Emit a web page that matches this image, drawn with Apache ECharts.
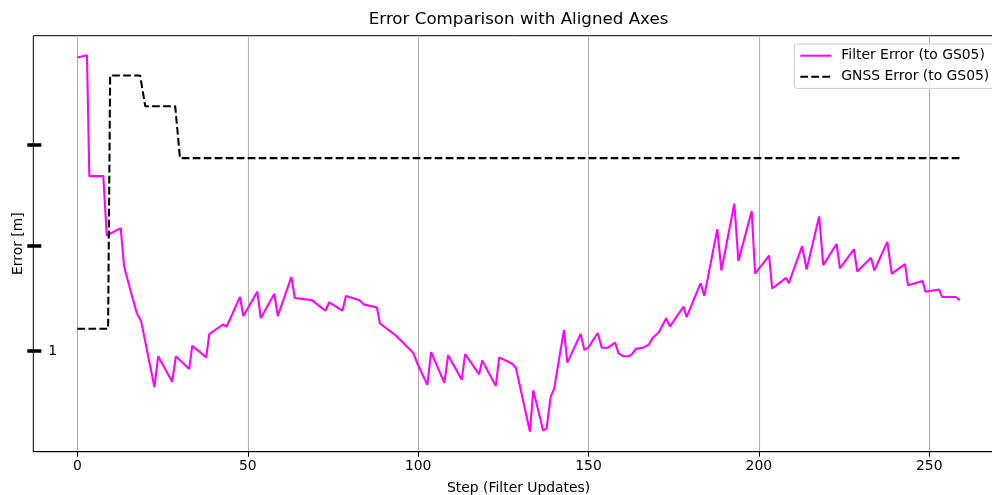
<!DOCTYPE html>
<html>
<head>
<meta charset="utf-8">
<script src="https://cdn.jsdelivr.net/npm/echarts@6/dist/echarts.min.js"></script>
<style>
  html, body { margin: 0; padding: 0; background: #ffffff; }
  #chart { width: 992px; height: 495px; }
</style>
</head>
<body>
<div id="chart"></div>
<script>
// Tick positions
const xTicks = [0, 50, 100, 150, 200, 250];
const yTicks = [1, 1.993, 2.95];
const yLabels = [1];

// Filter error per filter update step
const filterSteps = [
  0, 2.8, 3.5, 7.6, 8.6, 12.7, 13.7, 15.5, 17.4, 18.7,
  22.6, 23.7, 27.8, 28.9, 32.8, 33.7, 37.8, 38.7, 42.7, 43.8,
  47.7, 48.7, 52.8, 53.8, 57.8, 58.8, 62.8, 63.8, 68.8, 72.8,
  73.9, 77.8, 78.8, 82.8, 84.0, 87.9, 88.8, 93.7, 98.6, 99.8,
  102.7, 103.8, 107.7, 108.8, 112.8, 113.8, 117.9, 118.8, 122.8, 123.8,
  127.6, 128.7, 132.8, 133.8, 136.7, 137.7, 138.9, 139.9, 142.8, 143.8,
  147.7, 148.8, 149.9, 152.7, 153.9, 155.6, 157.8, 158.8, 160.2, 161.7,
  162.8, 163.9, 165.9, 167.7, 168.8, 170.7, 172.8, 173.9, 177.9, 178.8,
  182.9, 184.0, 187.8, 189.0, 192.8, 194.0, 197.9, 198.9, 203.0, 203.9,
  208.0, 208.8, 212.7, 214.0, 217.7, 218.9, 222.8, 223.8, 227.9, 228.9,
  232.9, 233.9, 237.7, 239.0, 242.9, 243.8, 248.1, 248.9, 252.9, 253.8,
  257.8, 259
];
const filterError = [
  3.77, 3.79, 2.65, 2.65, 2.09, 2.16, 1.80, 1.58, 1.36, 1.28,
  0.66, 0.95, 0.71, 0.95, 0.83, 1.05, 0.94, 1.16, 1.25, 1.23,
  1.51, 1.33, 1.56, 1.31, 1.54, 1.33, 1.70, 1.50, 1.48, 1.38,
  1.46, 1.38, 1.52, 1.48, 1.44, 1.41, 1.26, 1.14, 0.98, 0.88,
  0.68, 0.99, 0.70, 0.96, 0.73, 0.97, 0.78, 0.91, 0.67, 0.94,
  0.88, 0.84, 0.24, 0.63, 0.25, 0.27, 0.57, 0.64, 1.20, 0.89,
  1.16, 1.01, 1.03, 1.17, 1.03, 1.03, 1.08, 0.98, 0.95, 0.95,
  0.97, 1.02, 1.03, 1.06, 1.12, 1.18, 1.31, 1.23, 1.42, 1.32,
  1.64, 1.52, 2.15, 1.76, 2.39, 1.85, 2.32, 1.73, 1.90, 1.59,
  1.69, 1.64, 1.99, 1.77, 2.27, 1.81, 2.01, 1.78, 1.96, 1.75,
  1.88, 1.76, 2.03, 1.73, 1.82, 1.62, 1.66, 1.56, 1.58, 1.51,
  1.51, 1.48
];

// GNSS error (piecewise constant)
const gnssSteps = [0, 9.0, 9.6, 18.4, 19.9, 28.7, 30.1, 259];
const gnssError = [1.21, 1.21, 3.60, 3.60, 3.31, 3.31, 2.82, 2.82];

const FONT = 'DejaVu Sans';
const pairs = (xs, ys) => xs.map((x, i) => [x, ys[i]]);

const chart = echarts.init(document.getElementById('chart'), null, { renderer: 'canvas' });
chart.setOption({
  animation: false,
  backgroundColor: '#ffffff',
  title: {
    text: 'Error Comparison with Aligned Axes',
    left: 518.6,
    top: 11,
    textAlign: 'center',
    padding: 0,
    textStyle: { fontFamily: FONT, fontSize: 16.7, fontWeight: 'normal', color: '#000000' }
  },
  // plot area runs past the right edge of the canvas
  grid: {
    left: 33.3, top: 35.7, width: 970.7, bottom: 43.3,
    containLabel: false,
    outerBoundsMode: 'none',
    show: true, borderColor: '#000000', borderWidth: 1, backgroundColor: 'transparent'
  },
  legend: {
    orient: 'vertical',
    left: 794.3,
    top: 44,
    padding: [4.7, 16, 4.7, 5],
    itemWidth: 31,
    itemHeight: 14,
    itemGap: 7,
    backgroundColor: 'rgba(255,255,255,0.8)',
    borderColor: '#cccccc',
    borderWidth: 1,
    borderRadius: 3,
    itemStyle: { color: 'rgba(0,0,0,0)', borderWidth: 0, opacity: 0 },
    textStyle: { fontFamily: FONT, fontSize: 13.9, color: '#000000', padding: [0, 0, 0, 5] },
    data: ['Filter Error (to GS05)', 'GNSS Error (to GS05)']
  },
  xAxis: {
    type: 'value',
    min: -12.95,
    max: 271.95,
    name: 'Step (Filter Updates)',
    nameLocation: 'middle',
    nameGap: 30,
    nameTextStyle: { fontFamily: FONT, fontSize: 13.9, color: '#000000' },
    axisLine: { show: true, onZero: false, lineStyle: { color: '#000000', width: 1 } },
    axisTick: { show: true, customValues: xTicks, length: 5, lineStyle: { color: '#000000', width: 1.1 } },
    axisLabel: { customValues: xTicks, margin: 8, fontFamily: FONT, fontSize: 13.9, color: '#000000' },
    splitLine: { show: true, lineStyle: { color: '#b0b0b0', width: 1.1 } }
  },
  yAxis: {
    type: 'value',
    min: 0.05,
    max: 3.975,
    offset: 6,
    name: 'Error [m]',
    nameLocation: 'middle',
    nameGap: 2,
    nameMoveOverlap: false,
    nameTextStyle: { fontFamily: FONT, fontSize: 13.9, color: '#000000' },
    axisLine: { show: false, onZero: false },
    axisTick: { show: true, inside: true, length: 14, customValues: yTicks, lineStyle: { color: '#000000', width: 3.5 } },
    axisLabel: { inside: true, customValues: yLabels, margin: 21, fontFamily: FONT, fontSize: 13.9, color: '#000000' },
    splitLine: { show: false }
  },
  series: [
    {
      name: 'Filter Error (to GS05)',
      type: 'line',
      data: pairs(filterSteps, filterError),
      showSymbol: false,
      symbol: 'none',
      lineStyle: { color: '#ff00ff', width: 2.08 },
      itemStyle: { color: '#ff00ff' },
      z: 3
    },
    {
      name: 'GNSS Error (to GS05)',
      type: 'line',
      data: pairs(gnssSteps, gnssError),
      showSymbol: false,
      symbol: 'none',
      lineStyle: { color: '#000000', width: 2.08, type: [7.7, 3.3] },
      itemStyle: { color: '#000000' },
      z: 3
    }
  ]
});
</script>
</body>
</html>
